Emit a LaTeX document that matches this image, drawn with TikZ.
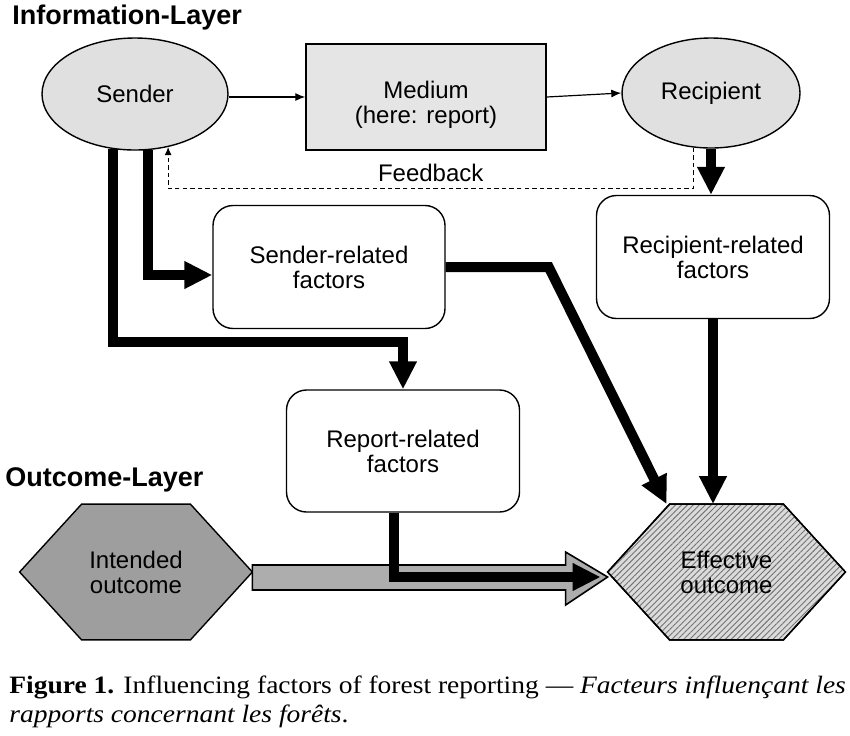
\documentclass[tikz,border=0pt]{standalone}
\usepackage{fontspec}
\setmainfont{Liberation Serif}
\setsansfont{Liberation Sans}
\newfontfamily\capfont[FakeStretch=1.1,Ligatures=TeX]{Liberation Serif}
\usetikzlibrary{positioning,arrows.meta,shapes.geometric,calc,backgrounds}
\usetikzlibrary{patterns.meta}
\definecolor{shellgrey}{gray}{0.88}
\definecolor{mediumgrey}{gray}{0.90}
\definecolor{intgrey}{gray}{0.62}
\definecolor{arrowgrey}{gray}{0.68}
\definecolor{hatchbg}{gray}{0.86}
\newcommand{\boxfont}{\sffamily\fontsize{12}{12.5}\selectfont}
\tikzset{
  actor/.style ={ellipse, draw=black, line width=0.7pt, fill=shellgrey, inner sep=0pt, font=\boxfont, align=center},
  medium/.style={rectangle, draw=black, line width=0.7pt, fill=mediumgrey, inner sep=0pt, minimum width=120pt, minimum height=53pt, font=\boxfont, align=center},
  factor/.style={rectangle, rounded corners=10pt, draw=black, line width=0.7pt, fill=white, inner sep=0pt, minimum width=116.5pt, minimum height=61.5pt, font=\boxfont, align=center},
  hexnode/.style={rectangle, inner sep=0pt, minimum height=67.5pt, font=\boxfont, align=center},
  thin/.style ={-{Latex[length=5pt,width=4pt]}, line width=0.6pt},
  fback/.style={-{Latex[length=4pt,width=3.5pt]}, dash pattern=on 2.2pt off 1.6pt, line width=0.55pt},
  heavy/.style={-{Triangle[length=14pt,width=13pt]}, line width=5pt},
  layer/.style={font=\sffamily\bfseries\fontsize{13.5}{15}\selectfont, anchor=west, inner sep=0pt},
  bigarrow/.style={draw=black, line width=0.8pt, fill=arrowgrey, line join=miter},
}
\newcommand{\hexpath}[2]{%
  \draw[#2] (#1.west) -- ($(#1.north west)+(62,0)$) -- ($(#1.north east)+(-62,0)$)
    -- (#1.east) -- ($(#1.south east)+(-62,0)$) -- ($(#1.south west)+(62,0)$) -- cycle;}
\begin{document}
\begin{tikzpicture}[x=0.5pt,y=-0.5pt]
  \useasboundingbox (0,0) rectangle (850,735);
  % layer titles
  \node[layer] (infolayer) at (12,18) {Information-Layer};
  \node[layer] (outlayer) at (5,480) {Outcome-Layer};
  % information layer
  \node[actor, minimum width=93pt, minimum height=56pt] (snd) at (135,94) {Sender};
  \node[medium] (med) at (426,97) {\rule{0pt}{16.5pt}Medium\\(here: report)};
  \node[actor, minimum width=89pt, minimum height=55pt] (rcp) at (711,93) {Recipient};
  \node[factor, minimum width=116pt] (srf) at (329,267) {Sender-related\\factors};
  \node[factor] (rrf) at (713,257) {Recipient-related\\factors};
  \node[factor, minimum height=61pt] (rep) at (403,451) {Report-related\\factors};
  % outcome layer
  \node[hexnode, minimum width=116pt] (io) at (136,572) {Intended\\outcome};
  \node[hexnode, minimum width=118.5pt] (eo) at (726.5,572) {Effective\\outcome};
  \begin{scope}[on background layer]
    \hexpath{io}{draw=black, line width=0.7pt, fill=intgrey}
    \hexpath{eo}{draw=black, line width=0.7pt, fill=hatchbg}
    \hexpath{eo}{pattern={Lines[angle=45,distance=2.1pt,line width=0.45pt]}, pattern color=black!55}
    \hexpath{eo}{draw=black, line width=0.7pt}
  \end{scope}
  % message flow
  \draw[thin] (snd.east |- med.west) -- (med.west);
  \draw[thin] (med.east) -- (rcp.west);
  \draw[fback] (rcp.-108.5) -- ++(0,41) -| node[pos=0.25, above, font=\boxfont, inner sep=3pt] {Feedback} (snd.-58);
  % influencing factors
  \draw[heavy] (snd.-77) |- ($(srf.west)+(0,8)$);
  \draw[heavy] (snd.-112) |- ($(rep.north)+(0,-47)$) -- (rep.north);
  \draw[heavy] (rcp.south) -- (rcp.south |- rrf.north);
  \draw[heavy] (srf.east) -- ($(srf.east)+(103,0)$) -- ($(eo.north west)+(59,0)$);
  \draw[heavy] (rrf.south) -- (rrf.south |- eo.north);
  % intended to effective
  \draw[bigarrow] ($(io.east)+(0,-7)$) -- ($(eo.west)+(-42,-7)$) -- ($(eo.west)+(-42,-20)$)
    -- ($(eo.west)+(0,5)$) -- ($(eo.west)+(-42,33)$) -- ($(eo.west)+(-42,18)$)
    -- ($(io.east)+(0,18)$) -- cycle;
  \draw[heavy] ($(rep.south)+(-9,0)$) |- ($(eo.west)+(-7,5)$);
  % caption
  \node[anchor=north west, inner sep=0pt, align=left, font=\capfont\fontsize{12.5}{14.5}\selectfont] (cap) at (9,675)
    {\textbf{Figure 1.} Influencing factors of forest reporting — \textit{Facteurs influençant les}\\
     \textit{rapports concernant les forêts}.};
\end{tikzpicture}
\end{document}
